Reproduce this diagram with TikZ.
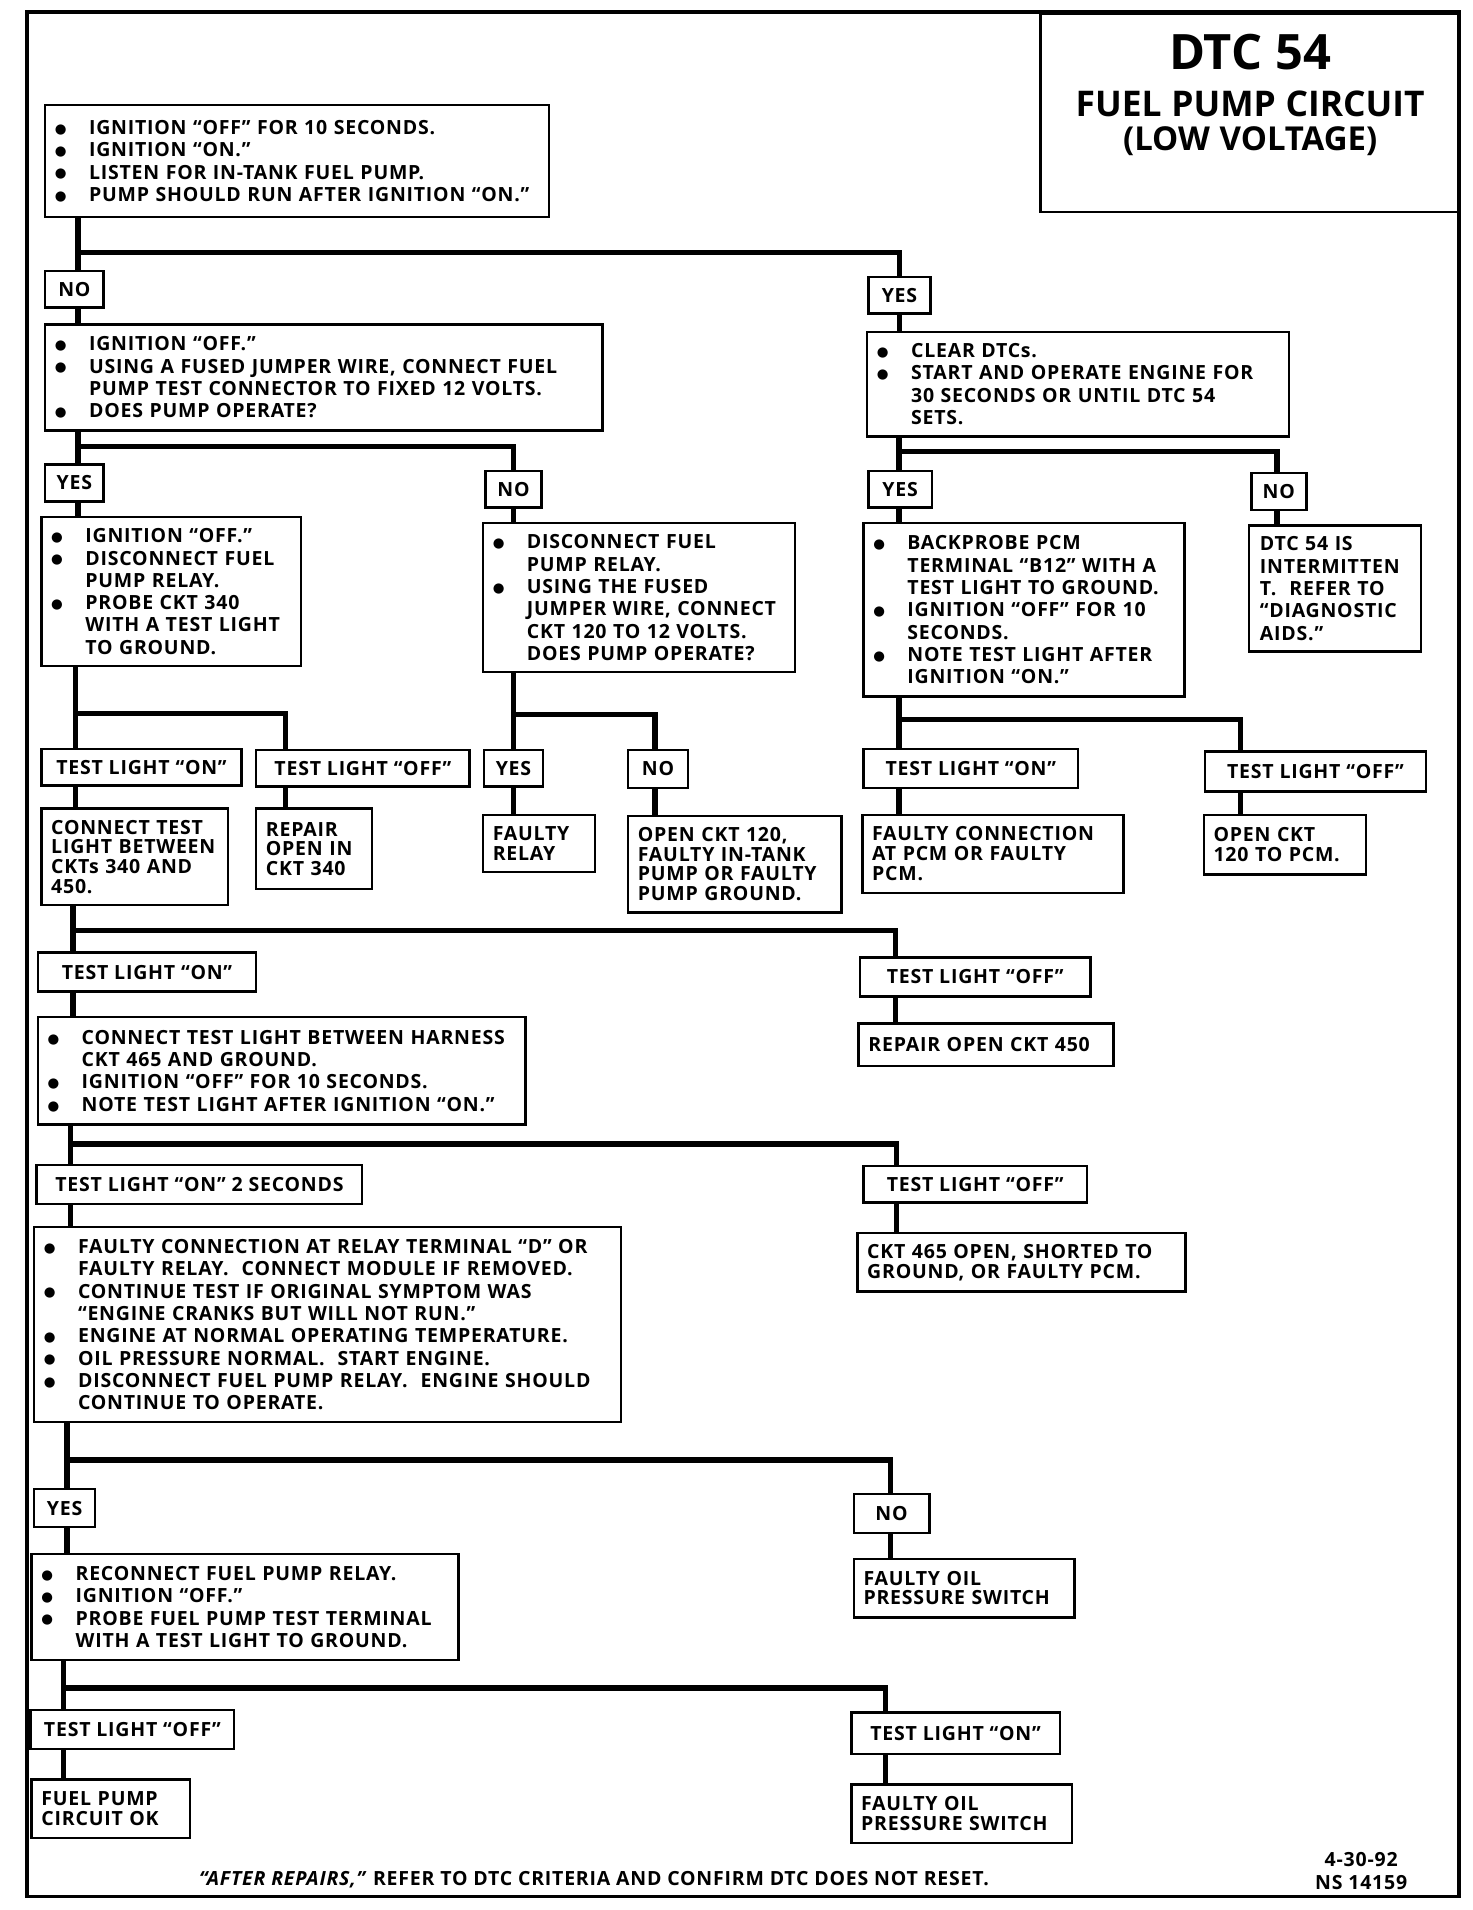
\documentclass[tikz,border=0pt]{standalone}
\usepackage{fontspec}
\setmainfont{Open Sans}
\newfontfamily\boxfamily{Open Sans}[Ligatures=TeX, LetterSpace=4]
\newfontfamily\dotfamily{DejaVu Sans}
\newcommand\boxfont{\boxfamily\fontsize{16pt}{18.3pt}\selectfont\bfseries}
\newcommand\resfont{\boxfamily\fontsize{16pt}{16.2pt}\selectfont\bfseries}
\newcommand\bul{\makebox[28pt][l]{\raisebox{1pt}{\dotfamily\fontsize{11pt}{11pt}\selectfont ●}}}
\newcommand\ind{\hspace*{28pt}}
\tikzset{
  stepbox/.style={draw, line width=2pt, fill=white, anchor=north west, align=left, inner xsep=8pt, inner ysep=2pt, font=\boxfont},
  result/.style={stepbox, font=\resfont},
  tag/.style={draw, line width=2pt, fill=white, anchor=north west, inner sep=0pt, font=\boxfont},
  wire/.style={line width=4.5pt},
}
\begin{document}
\begin{tikzpicture}[x=1pt, y=-1pt]
\useasboundingbox (0,0) rectangle (1207,1566);
\draw[line width=3pt] (22,10) rectangle (1196,1555);

% title
\node (title) [draw, line width=2pt, anchor=north west, minimum width=344pt, minimum height=163pt] at (852,10) {};
\node (heading) [anchor=north, inner sep=0pt, text width=330pt, align=center, font=\bfseries] at ([yshift=-18pt]title.north)
  {{\fontsize{40pt}{40pt}\selectfont DTC\hspace{11pt}54\par}{\fontsize{29pt}{38pt}\selectfont FUEL\hspace{8pt}PUMP\hspace{8pt}CIRCUIT\par}{\fontsize{27pt}{28pt}\selectfont (LOW\hspace{8pt}VOLTAGE)\par}};

% first checks
\node (ign) [stepbox, text width=397pt, minimum height=92pt] at (36,85) {\bul IGNITION ``OFF'' FOR 10 SECONDS.\\ \bul IGNITION ``ON.''\\ \bul LISTEN FOR IN-TANK FUEL PUMP.\\ \bul PUMP SHOULD RUN AFTER IGNITION ``ON.''};
\node (no1) [tag, minimum width=48pt, minimum height=30pt] at (36,221) {NO};
\node (yes1) [tag, minimum width=51pt, minimum height=30pt] at (711,226) {YES};
\node (pumptest) [stepbox, text width=441pt, minimum height=87pt] at (36,265) {\bul IGNITION ``OFF.''\\ \bul USING A FUSED JUMPER WIRE, CONNECT FUEL\\ \ind PUMP TEST CONNECTOR TO FIXED 12 VOLTS.\\ \bul DOES PUMP OPERATE?};
\node (cleardtc) [stepbox, text width=330pt, minimum height=86pt] at (710,271) {\bul CLEAR DTCs.\\ \bul START AND OPERATE ENGINE FOR\\ \ind 30 SECONDS OR UNTIL DTC 54\\ \ind SETS.};

\node (yes2) [tag, minimum width=48pt, minimum height=30pt] at (36,380) {YES};
\node (no2) [tag, minimum width=46pt, minimum height=30pt] at (397,385) {NO};
\node (yes3) [tag, minimum width=52pt, minimum height=30pt] at (711,385) {YES};
\node (no3) [tag, minimum width=45pt, minimum height=30pt] at (1025,387) {NO};

\node (probe340) [stepbox, text width=197pt, minimum height=122pt] at (33,423) {\bul IGNITION ``OFF.''\\ \bul DISCONNECT FUEL\\ \ind PUMP RELAY.\\ \bul PROBE CKT 340\\ \ind WITH A TEST LIGHT\\ \ind TO GROUND.};
\node (relay) [stepbox, text width=240pt, minimum height=122pt] at (395,428) {\bul DISCONNECT FUEL\\ \ind PUMP RELAY.\\ \bul USING THE FUSED\\ \ind JUMPER WIRE, CONNECT\\ \ind CKT 120 TO 12 VOLTS.\\ \ind DOES PUMP OPERATE?};
\node (backprobe) [stepbox, text width=247pt, minimum height=142pt] at (707,428) {\bul BACKPROBE PCM\\ \ind TERMINAL ``B12'' WITH A\\ \ind TEST LIGHT TO GROUND.\\ \bul IGNITION ``OFF'' FOR 10\\ \ind SECONDS.\\ \bul NOTE TEST LIGHT AFTER\\ \ind IGNITION ``ON.''};
\node (intermit) [stepbox, inner xsep=9pt, text width=123pt, minimum height=103pt] at (1023,430) {DTC 54 IS\\INTERMITTEN\\T.\ \ REFER TO\\``DIAGNOSTIC\\AIDS.''};

% second row of answers
\node (tlon1) [tag, minimum width=164pt, minimum height=30pt] at (33,613) {TEST LIGHT ``ON''};
\node (tloff1) [tag, minimum width=175pt, minimum height=30pt] at (209,614) {TEST LIGHT ``OFF''};
\node (yes4) [tag, minimum width=48pt, minimum height=30pt] at (396,614) {YES};
\node (no4) [tag, minimum width=49pt, minimum height=31pt] at (514,614) {NO};
\node (tlon2) [tag, minimum width=176pt, minimum height=32pt] at (707,613) {TEST LIGHT ``ON''};
\node (tloff2) [tag, minimum width=181pt, minimum height=33pt] at (987,615) {TEST LIGHT ``OFF''};

\node (link) [result, text width=137pt, minimum height=79pt] at (33,662) {CONNECT TEST\\LIGHT BETWEEN\\CKTs 340 AND\\450.};
\node (rep340) [result, text width=79pt, minimum height=66pt] at (209,662) {REPAIR\\OPEN IN\\CKT 340};
\node (badrelay) [result, text width=76pt, minimum height=47pt] at (395,667) {FAULTY\\RELAY};
\node (open120) [result, text width=159pt, minimum height=79pt] at (514,668) {OPEN CKT 120,\\FAULTY IN-TANK\\PUMP OR FAULTY\\PUMP GROUND.};
\node (pcmfault) [result, text width=198pt, minimum height=64pt] at (706,667) {FAULTY CONNECTION\\AT PCM OR FAULTY\\PCM.};
\node (topcm) [result, text width=117pt, minimum height=49pt] at (986,667) {OPEN CKT\\120 TO PCM.};

% lower chain
\node (tlon3) [tag, minimum width=179pt, minimum height=32pt] at (30,780) {TEST LIGHT ``ON''};
\node (tloff3) [tag, minimum width=189pt, minimum height=32pt] at (704,784) {TEST LIGHT ``OFF''};
\node (rep450) [result, text width=193pt, minimum height=35pt] at (703,838) {REPAIR OPEN CKT 450};
\node (harness) [stepbox, text width=384pt, minimum height=88pt] at (30,833) {\bul CONNECT TEST LIGHT BETWEEN HARNESS\\ \ind CKT 465 AND GROUND.\\ \bul IGNITION ``OFF'' FOR 10 SECONDS.\\ \bul NOTE TEST LIGHT AFTER IGNITION ``ON.''};

\node (tlon4) [tag, minimum width=267pt, minimum height=32pt] at (29,954) {TEST LIGHT ``ON'' 2 SECONDS};
\node (tloff4) [tag, minimum width=183pt, minimum height=30pt] at (707,955) {TEST LIGHT ``OFF''};
\node (ckt465) [result, text width=253pt, minimum height=48pt] at (702,1010) {CKT 465 OPEN, SHORTED TO\\GROUND, OR FAULTY PCM.};
\node (relayterm) [stepbox, text width=465pt, minimum height=160pt] at (27,1005) {\bul FAULTY CONNECTION AT RELAY TERMINAL ``D'' OR\\ \ind FAULTY RELAY.\ \ CONNECT MODULE IF REMOVED.\\ \bul CONTINUE TEST IF ORIGINAL SYMPTOM WAS\\ \ind ``ENGINE CRANKS BUT WILL NOT RUN.''\\ \bul ENGINE AT NORMAL OPERATING TEMPERATURE.\\ \bul OIL PRESSURE NORMAL.\ \ START ENGINE.\\ \bul DISCONNECT FUEL PUMP RELAY.\ \ ENGINE SHOULD\\ \ind CONTINUE TO OPERATE.};

\node (yes5) [tag, minimum width=50pt, minimum height=31pt] at (27,1220) {YES};
\node (no5) [tag, minimum width=62pt, minimum height=32pt] at (699,1224) {NO};
\node (oilsw1) [result, text width=165pt, minimum height=48pt] at (699,1277) {FAULTY OIL\\PRESSURE SWITCH};
\node (reconnect) [stepbox, text width=334pt, minimum height=87pt] at (25,1273) {\bul RECONNECT FUEL PUMP RELAY.\\ \bul IGNITION ``OFF.''\\ \bul PROBE FUEL PUMP TEST TERMINAL\\ \ind WITH A TEST LIGHT TO GROUND.};

\node (tloff5) [tag, minimum width=167pt, minimum height=32pt] at (24,1401) {TEST LIGHT ``OFF''};
\node (tlon5) [tag, minimum width=171pt, minimum height=34pt] at (697,1403) {TEST LIGHT ``ON''};
\node (pumpok) [result, text width=114pt, minimum height=48pt] at (25,1458) {FUEL PUMP\\CIRCUIT OK};
\node (oilsw2) [result, text width=165pt, minimum height=48pt] at (697,1462) {FAULTY OIL\\PRESSURE SWITCH};

\node (note) [font=\boxfont] at (487,1541) {\textit{``AFTER REPAIRS,''} REFER TO DTC CRITERIA AND CONFIRM DTC DOES NOT RESET.};
\node (stamp) [align=center, font=\boxfont] at (1116,1534) {4-30-92\\NS 14159};

% connectors
\coordinate (j1) at (64,207);
\draw[wire] (ign.south -| j1) -- (no1.north -| j1);
\draw[wire] (no1.south -| j1) -- (pumptest.north -| j1);
\draw[wire] (j1) -| (yes1.north);
\draw[wire] (yes1.south) -- (yes1.south |- cleardtc.north);

\coordinate (j2) at (64,366);
\coordinate (k2) at (421,366);
\draw[wire] (pumptest.south -| j2) -- (yes2.north -| j2);
\draw[wire] (yes2.south -| j2) -- (probe340.north -| j2);
\draw[wire] (j2) -- (k2) -- (no2.north -| k2);
\draw[wire] (no2.south -| k2) -- (relay.north -| k2);

\coordinate (j3) at (737,370);
\coordinate (k3) at (1047,370);
\draw[wire] (cleardtc.south -| j3) -- (yes3.north -| j3);
\draw[wire] (yes3.south -| j3) -- (backprobe.north -| j3);
\draw[wire] (j3) -- (k3) -- (no3.north -| k3);
\draw[wire] (no3.south -| k3) -- (intermit.north -| k3);

\coordinate (j4) at (62,585);
\coordinate (k4) at (234,585);
\draw[wire] (probe340.south -| j4) -- (tlon1.north -| j4);
\draw[wire] (tlon1.south -| j4) -- (link.north -| j4);
\draw[wire] (j4) -- (k4) -- (tloff1.north -| k4);
\draw[wire] (tloff1.south -| k4) -- (rep340.north -| k4);

\coordinate (j5) at (421,586);
\coordinate (k5) at (537,586);
\draw[wire] (relay.south -| j5) -- (yes4.north -| j5);
\draw[wire] (yes4.south -| j5) -- (badrelay.north -| j5);
\draw[wire] (j5) -- (k5) -- (no4.north -| k5);
\draw[wire] (no4.south -| k5) -- (open120.north -| k5);

\coordinate (j6) at (737,590);
\coordinate (k6) at (1017,590);
\draw[wire] (backprobe.south -| j6) -- (tlon2.north -| j6);
\draw[wire] (tlon2.south -| j6) -- (pcmfault.north -| j6);
\draw[wire] (j6) -- (k6) -- (tloff2.north -| k6);
\draw[wire] (tloff2.south -| k6) -- (topcm.north -| k6);

\coordinate (j7) at (60,763);
\coordinate (k7) at (734,763);
\draw[wire] (link.south -| j7) -- (tlon3.north -| j7);
\draw[wire] (tlon3.south -| j7) -- (harness.north -| j7);
\draw[wire] (j7) -- (k7) -- (tloff3.north -| k7);
\draw[wire] (tloff3.south -| k7) -- (rep450.north -| k7);

\coordinate (j8) at (58,938);
\coordinate (k8) at (735,938);
\draw[wire] (harness.south -| j8) -- (tlon4.north -| j8);
\draw[wire] (tlon4.south -| j8) -- (relayterm.north -| j8);
\draw[wire] (j8) -- (k8) -- (tloff4.north -| k8);
\draw[wire] (tloff4.south -| k8) -- (ckt465.north -| k8);

\coordinate (j9) at (55,1197);
\coordinate (k9) at (730,1197);
\draw[wire] (relayterm.south -| j9) -- (yes5.north -| j9);
\draw[wire] (yes5.south -| j9) -- (reconnect.north -| j9);
\draw[wire] (j9) -- (k9) -- (no5.north -| k9);
\draw[wire] (no5.south -| k9) -- (oilsw1.north -| k9);

\coordinate (j10) at (52,1384);
\coordinate (k10) at (726,1384);
\draw[wire] (reconnect.south -| j10) -- (tloff5.north -| j10);
\draw[wire] (tloff5.south -| j10) -- (pumpok.north -| j10);
\draw[wire] (j10) -- (k10) -- (tlon5.north -| k10);
\draw[wire] (tlon5.south -| k10) -- (oilsw2.north -| k10);
\end{tikzpicture}
\end{document}
